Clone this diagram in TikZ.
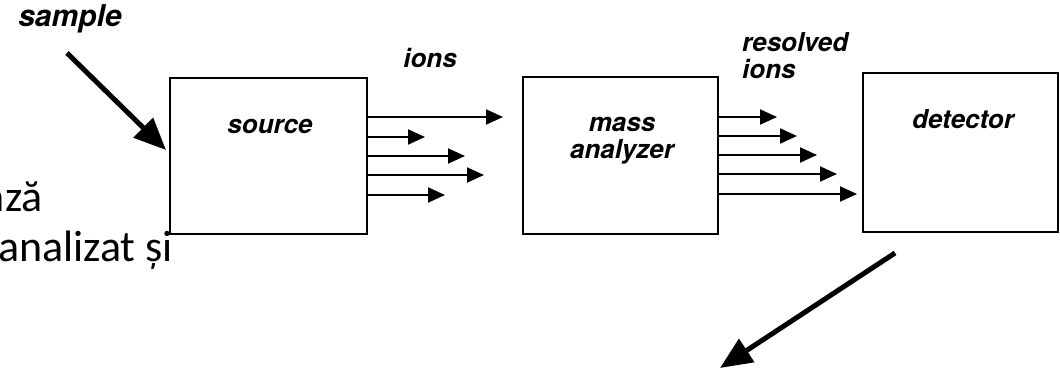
\documentclass[tikz,border=0pt]{standalone}
\usepackage{fontspec}
\usetikzlibrary{arrows.meta}
\newfontfamily\hvfont{TeX Gyre Heros}
\newfontfamily\carfont{Carlito}
\begin{document}
\begin{tikzpicture}[x=1pt,y=-1pt,
  box/.style={draw, line width=2pt, inner sep=0pt},
  lbl/.style={font=\hvfont\bfseries\itshape\fontsize{26}{27}\selectfont, inner sep=0pt},
  ion/.style={line width=2pt, -{Triangle[length=17pt,width=15pt]}},
  big/.style={line width=5pt, -{Triangle[length=32pt,width=27pt]}},
  body/.style={font=\carfont\fontsize{44}{50}\selectfont, inner sep=0pt}
  ]
\useasboundingbox (0,0) rectangle (1060,369);
\clip (0,0) rectangle (1060,369);
% boxes
\node[box, minimum width=197pt, minimum height=156pt] (src) at (268.5,156) {};
\node[box, minimum width=195pt, minimum height=157pt] (mass) at (620.5,155.5) {};
\node[box, minimum width=195pt, minimum height=159pt] (det) at (960.5,152.5) {};
% box labels
\node[lbl, anchor=base] (srcl) at (270,133) {source};
\node[lbl, anchor=base, align=center] (massl) at (622,158) {mass\\analyzer};
\node[lbl, anchor=base] (detl) at (963,128) {detector};
% other labels
\node[lbl, anchor=base, font=\hvfont\bfseries\itshape\fontsize{30}{32}\selectfont] (samp) at (70,27) {sample};
\node[lbl, anchor=base] (ionsl) at (430,67) {ions};
\node[lbl, anchor=base west, align=left] (resl) at (742,78) {resolved\\ions};
% background text
\node[body, anchor=base east] (t1) at (43,211) {nză};
\node[body, anchor=base east] (t2) at (173,261) {analizat și};
% ion arrows
\coordinate (a1) at (503,117);
\coordinate (a2) at (425,137);
\coordinate (a3) at (465,156);
\coordinate (a4) at (484,175);
\coordinate (a5) at (445,195);
\foreach \c in {a1,a2,a3,a4,a5} \draw[ion] (src.east |- \c) -- (\c);
% resolved ion arrows
\coordinate (b1) at (777,117);
\coordinate (b2) at (797,136);
\coordinate (b3) at (817,155);
\coordinate (b4) at (837,174);
\coordinate (b5) at (857,194);
\foreach \c in {b1,b2,b3,b4,b5} \draw[ion] (mass.east |- \c) -- (\c);
% big arrows
\coordinate (s0) at (67,53);
\coordinate (s1) at (166,150);
\draw[big] (s0) -- (s1);
\coordinate (d0) at (895,253);
\coordinate (d1) at (720,368);
\draw[big] (d0) -- (d1);
\end{tikzpicture}
\end{document}
